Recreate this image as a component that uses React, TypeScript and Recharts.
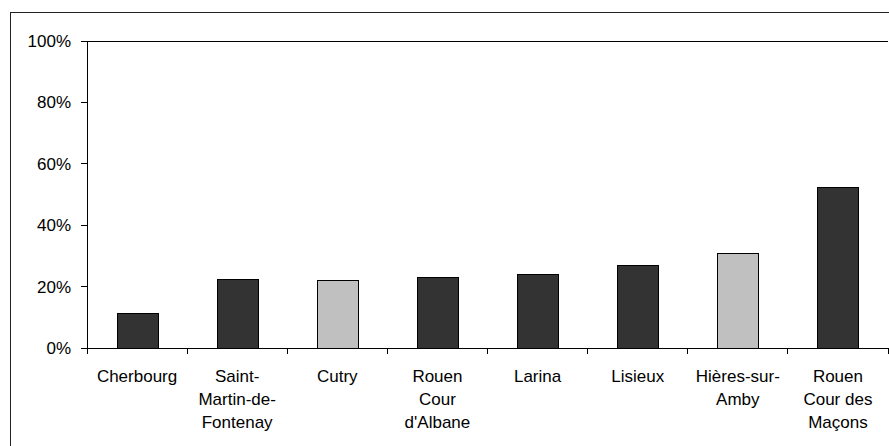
import * as React from "react";
import { BarChart, Bar, Cell, XAxis, YAxis, CartesianGrid } from "recharts";

// site names, "\n" marks where the original label wraps
const sites = [
  "Cherbourg",
  "Saint-\nMartin-de-\nFontenay",
  "Cutry",
  "Rouen\nCour\nd'Albane",
  "Larina",
  "Lisieux",
  "Hières-sur-\nAmby",
  "Rouen\nCour des\nMaçons",
];
const shares = [0.111, 0.222, 0.221, 0.231, 0.24, 0.268, 0.307, 0.524];
const highlighted = [false, false, true, false, false, false, true, false];
const yTicks = [0, 0.2, 0.4, 0.6, 0.8, 1];

const data = sites.map((site, i) => ({ site, share: shares[i] }));

const FONT = "'Liberation Sans', Arial, sans-serif";

function SiteTick(props: any) {
  const { x, y, payload, index } = props;
  const half = payload?.offset ?? 50;
  const lines = String(payload.value).split("\n");
  const last = index === sites.length - 1;
  return (
    <g>
      <line x1={x - half} x2={x - half} y1={y} y2={y + 6} stroke="#000" />
      {last && <line x1={x + half} x2={x + half} y1={y} y2={y + 6} stroke="#000" />}
      <text x={x} y={y + 34} textAnchor="middle" fontSize={17} fontFamily={FONT} fill="#000">
        {lines.map((l, i) => (
          <tspan key={i} x={x} dy={i === 0 ? 0 : 23}>
            {l}
          </tspan>
        ))}
      </text>
    </g>
  );
}

export default function App() {
  return (
    <div style={{ position: "absolute", left: 0, top: 0, width: 889, height: 446, overflow: "hidden", background: "#fff" }}>
      <div
        style={{
          position: "absolute",
          left: 10,
          top: 12,
          width: 900,
          height: 460,
          border: "1px solid #222",
        }}
      />
      <div style={{ position: "absolute", left: 0, top: 0 }}>
        <BarChart
          width={889}
          height={446}
          data={data}
          margin={{ top: 41, right: 1, left: 0, bottom: 0 }}
          barSize={41}
          style={{ shapeRendering: "crispEdges" }}
        >
          <CartesianGrid horizontal vertical={false} stroke="#000" strokeOpacity={1} />
          <XAxis
            dataKey="site"
            height={98}
            interval={0}
            tickLine={false}
            tickSize={0}
            tickMargin={0}
            axisLine={{ stroke: "#000" }}
            tick={<SiteTick />}
          />
          <YAxis
            yAxisId="left"
            width={87}
            domain={[0, 1]}
            ticks={yTicks}
            interval={0}
            tickSize={6}
            tickMargin={10}
            tickFormatter={(v: number) => `${Math.round(v * 100)}%`}
            axisLine={{ stroke: "#000" }}
            tickLine={{ stroke: "#000" }}
            tick={{ fontSize: 17, fontFamily: FONT, fill: "#000" }}
          />
          <YAxis
            yAxisId="right"
            orientation="right"
            width={0}
            domain={[0, 1]}
            tick={false}
            tickLine={false}
            axisLine={{ stroke: "#909090" }}
          />
          <Bar yAxisId="left" dataKey="share" stroke="#000" strokeWidth={1} isAnimationActive={false}>
            {data.map((d, i) => (
              <Cell key={d.site} fill={highlighted[i] ? "#c0c0c0" : "#333333"} />
            ))}
          </Bar>
        </BarChart>
      </div>
    </div>
  );
}
